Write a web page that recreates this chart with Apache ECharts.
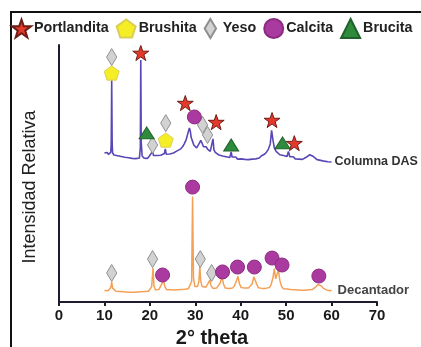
<!DOCTYPE html>
<html>
<head>
<meta charset="utf-8">
<script src="https://cdn.jsdelivr.net/npm/echarts@6/dist/echarts.min.js"></script>
<style>
html,body{margin:0;padding:0;background:#fff;}
#chart{width:421px;height:347px;}
</style>
</head>
<body>
<div id="chart"></div>
<script>
// ---- data ----
var xTicks = [0, 10, 20, 30, 40, 50, 60, 70];
var legendNames = ['Portlandita', 'Brushita', 'Yeso', 'Calcita', 'Brucita'];
var seriesNames = ['Columna DAS', 'Decantador'];

// Columna DAS pattern [2theta, intensity]
var columnaDAS = [
[10.0,58.0],[10.3,57.6],[10.6,58.2],[10.9,57.4],[11.2,57.9],[11.4,58.3],[11.5,62],[11.6,86.4],[11.7,62],[11.8,58.0],
[12.1,57.2],[12.5,57.8],[12.9,56.9],[13.3,57.5],[13.7,56.6],[14.1,57.2],[14.5,56.3],[14.9,56.9],[15.3,56.1],[15.7,56.7],
[16.1,55.9],[16.5,56.5],[16.9,55.8],[17.3,56.4],[17.7,56.0],[17.9,60],[18.0,94.2],[18.1,62],[18.3,56.8],[18.7,56.0],
[19.1,56.6],[19.5,55.9],[19.9,56.8],[20.3,57.2],[20.6,58.6],[20.8,57.0],[21.2,56.4],[21.6,57.0],[22.0,56.3],[22.4,57.1],
[22.8,56.6],[23.2,57.8],[23.4,59.6],[23.6,57.5],[24.0,57.0],[24.4,57.6],[24.8,57.1],[25.2,58.0],[25.6,57.6],[26.0,58.8],
[26.4,58.4],[26.8,59.6],[27.2,60.4],[27.6,61.6],[28.0,63.2],[28.4,65.8],[28.7,67.7],[28.9,66.5],[29.1,64.0],[29.4,62.5],
[29.7,61.0],[30.0,60.4],[30.3,60.0],[30.6,60.6],[30.9,61.8],[31.2,62.9],[31.5,61.8],[31.8,60.4],[32.1,59.8],[32.4,60.4],
[32.7,59.5],[33.0,59.0],[33.3,58.6],[33.6,58.9],[33.9,63.5],[34.1,59.2],[34.4,58.2],[34.8,57.6],[35.2,57.2],[35.6,57.8],
[36.0,56.8],[36.4,57.4],[36.8,56.5],[37.2,56.9],[37.6,56.2],[37.9,58.4],[38.1,56.4],[38.5,55.8],[38.9,56.4],[39.3,55.6],
[39.7,56.3],[40.1,55.7],[40.5,56.2],[40.9,55.5],[41.3,56.1],[41.7,55.4],[42.1,56.0],[42.5,55.6],[42.9,56.3],[43.3,55.7],
[43.7,56.4],[44.1,56.0],[44.5,56.8],[44.9,57.2],[45.3,57.6],[45.7,58.4],[46.1,59.5],[46.5,61.5],[46.8,66.8],[46.9,67.0],
[47.1,63.0],[47.4,60.0],[47.8,58.6],[48.2,58.0],[48.6,57.3],[49.0,57.8],[49.4,57.0],[49.8,57.4],[50.2,56.6],[50.5,58.6],
[50.8,56.5],[51.2,56.0],[51.6,56.5],[52.0,55.7],[52.4,56.2],[52.8,55.6],[53.2,56.1],[53.6,55.5],[54.0,56.0],[54.4,56.3],
[54.8,56.9],[55.2,57.3],[55.6,57.1],[56.0,56.6],[56.4,56.0],[56.8,55.4],[57.2,55.8],[57.6,55.1],[58.0,55.5],[58.4,54.8],
[58.8,55.2],[59.2,54.6],[59.6,55.0],[60.0,54.5]
];

// Decantador pattern [2theta, intensity]
var decantador = [
[10.0,4.5],[10.4,4.9],[10.8,4.4],[11.2,5.0],[11.4,5.6],[11.6,7.8],[11.8,5.4],[12.1,4.7],[12.5,4.2],[12.9,4.6],
[13.3,4.1],[13.7,4.5],[14.1,4.0],[14.5,4.4],[14.9,3.9],[15.3,4.3],[15.7,3.8],[16.1,4.2],[16.5,3.8],[16.9,4.2],
[17.3,3.9],[17.7,4.3],[18.1,4.0],[18.5,4.4],[18.9,4.1],[19.3,4.5],[19.7,4.2],[20.1,4.8],[20.4,6.0],[20.7,13.2],
[20.9,6.2],[21.2,4.8],[21.6,4.5],[22.0,4.9],[22.4,5.4],[22.8,7.6],[23.0,8.6],[23.3,6.0],[23.7,4.8],[24.1,4.4],
[24.5,4.8],[24.9,4.3],[25.3,4.7],[25.7,4.3],[26.1,4.8],[26.5,4.4],[26.9,4.9],[27.3,4.5],[27.7,5.0],[28.1,4.7],
[28.5,5.2],[28.9,5.8],[29.2,8.0],[29.4,41.0],[29.6,9.5],[29.9,6.0],[30.2,5.4],[30.5,6.0],[30.8,8.0],[31.0,14.0],
[31.2,8.2],[31.5,6.0],[31.9,5.3],[32.3,5.7],[32.7,6.2],[33.0,7.8],[33.2,8.6],[33.5,6.2],[33.9,5.3],[34.3,5.0],
[34.7,5.4],[35.1,5.9],[35.5,7.5],[35.9,10.0],[36.2,7.0],[36.6,5.4],[37.0,5.0],[37.4,5.3],[37.8,4.9],[38.2,5.4],
[38.6,6.2],[39.0,8.0],[39.4,10.0],[39.7,7.2],[40.1,5.6],[40.5,5.1],[40.9,5.4],[41.3,5.0],[41.7,5.4],[42.1,5.9],
[42.5,7.0],[42.9,9.8],[43.2,10.0],[43.5,7.0],[43.9,5.5],[44.3,5.0],[44.7,5.3],[45.1,4.9],[45.5,5.3],[45.9,5.0],
[46.3,5.6],[46.7,6.8],[47.1,9.5],[47.4,13.0],[47.7,9.0],[48.0,9.6],[48.3,12.5],[48.6,8.5],[49.0,6.0],[49.4,5.2],
[49.8,4.8],[50.2,5.1],[50.6,4.6],[51.0,4.9],[51.4,4.5],[51.8,4.8],[52.2,4.4],[52.6,4.7],[53.0,4.3],[53.4,4.6],
[53.8,4.3],[54.2,4.6],[54.6,4.4],[55.0,4.8],[55.4,4.5],[55.8,4.9],[56.2,5.3],[56.6,6.0],[57.0,6.8],[57.4,7.0],
[57.8,6.2],[58.2,5.3],[58.6,4.9],[59.0,4.6],[59.4,4.8],[59.8,4.4],[60.0,4.6]
];

// phase markers [2theta, marker height]
var portlanditaPts = [[18.0,96.9],[27.8,77.4],[34.6,70.0],[46.9,70.8],[51.8,61.8]];
var brushitaPts = [[11.6,89.1],[23.5,63.0]];
var yesoPts = [[11.6,95.3],[20.6,61.1],[23.5,69.6],[31.6,68.9],[32.7,65.0],
               [11.6,11.3],[20.6,16.7],[31.1,16.7],[33.6,11.3]];
var calcitaPts = [[29.8,72.0],
                  [22.8,10.5],[29.4,44.7],[36.0,11.7],[39.3,13.6],[43.0,13.6],[46.9,17.1],[49.1,14.4],[57.2,10.1]];
var brucitaPts = [[19.3,65.8],[37.9,61.1],[49.2,61.9]];

// ---- chart ----
var FONT = "'Liberation Sans', Arial, sans-serif";
var AX = '#1c1c2e';
var STAR = 'path://M50,0 L61.8,34.5 L98,34.5 L68.8,55.9 L79.4,90.5 L50,69.1 L20.6,90.5 L31.2,55.9 L2,34.5 L38.2,34.5 Z';
var PENT = 'path://M50,0 L100,36.3 L80.9,95 L19.1,95 L0,36.3 Z';
var DIAM = 'path://M30,0 L60,50 L30,100 L0,50 Z';

var chart = echarts.init(document.getElementById('chart'), null, {renderer: 'canvas'});

function scatter(name, data, symbol, size, color, border) {
  return {
    name: name, type: 'scatter', data: data, symbol: symbol, symbolSize: size,
    symbolKeepAspect: true, z: 5,
    itemStyle: {color: color, borderColor: border, borderWidth: 1, opacity: 1}
  };
}

chart.setOption({
  animation: false,
  textStyle: {fontFamily: FONT},
  grid: {left: 59, right: 44, top: 45, bottom: 45, containLabel: false},
  legend: {
    left: 11, top: 18, width: 410, itemWidth: 19, itemHeight: 19, itemGap: 7, padding: 0,
    data: legendNames, selectedMode: false,
    textStyle: {fontSize: 14.3, fontWeight: 'bold', color: '#222', fontFamily: FONT, padding: [0,0,0,-2]}
  },
  xAxis: {
    type: 'value', min: xTicks[0], max: xTicks[xTicks.length - 1], interval: 10,
    axisLine: {show: true, lineStyle: {color: AX, width: 2}},
    axisTick: {show: true, length: 4, lineStyle: {color: AX, width: 2}},
    axisLabel: {fontSize: 15, fontWeight: 'bold', color: '#1a1a1a', margin: 6, fontFamily: FONT},
    splitLine: {show: false}
  },
  yAxis: {
    type: 'value', min: 0, max: 100,
    axisLine: {show: true, lineStyle: {color: AX, width: 2}},
    axisTick: {show: false}, axisLabel: {show: false}, splitLine: {show: false}
  },
  graphic: [
    {type: 'line', shape: {x1: 10, y1: 12, x2: 421, y2: 12}, style: {stroke: '#111', lineWidth: 2}},
    {type: 'line', shape: {x1: 11, y1: 12, x2: 11, y2: 347}, style: {stroke: '#111', lineWidth: 2}},
    {type: 'text', x: 212, y: 338, style: {text: '2° theta', fontSize: 20, fontWeight: 'bold', fill: '#1a1a1a', align: 'center', verticalAlign: 'middle', fontFamily: FONT}},
    {type: 'text', x: 30, y: 187, rotation: Math.PI / 2, style: {text: 'Intensidad Relativa', fontSize: 18, fill: '#222', align: 'center', verticalAlign: 'middle', fontFamily: FONT}}
  ],
  series: [
    {
      name: seriesNames[0], type: 'line', data: columnaDAS, showSymbol: false, symbol: 'none',
      lineStyle: {color: '#5a47b6', width: 1.6},
      endLabel: {show: true, formatter: seriesNames[0], color: '#333', fontSize: 12.5, fontWeight: 'bold', distance: 3, fontFamily: FONT}
    },
    {
      name: seriesNames[1], type: 'line', data: decantador, showSymbol: false, symbol: 'none',
      lineStyle: {color: '#f4a055', width: 1.5},
      endLabel: {show: true, formatter: seriesNames[1], color: '#444', fontSize: 13, fontWeight: 'bold', distance: 6, fontFamily: FONT}
    },
    scatter(legendNames[0], portlanditaPts, STAR, 16, '#e5392c', '#6e1d16'),
    scatter(legendNames[1], brushitaPts, PENT, 15, '#f6ee24', '#d9cf55'),
    scatter(legendNames[2], yesoPts, DIAM, 17, '#d2d2d2', '#8f8f8f'),
    scatter(legendNames[3], calcitaPts, 'circle', 14, '#ab3aa0', '#8a2c80'),
    scatter(legendNames[4], brucitaPts, 'triangle', [15, 12], '#2f8b3c', '#21622a')
  ]
});
</script>
</body>
</html>
